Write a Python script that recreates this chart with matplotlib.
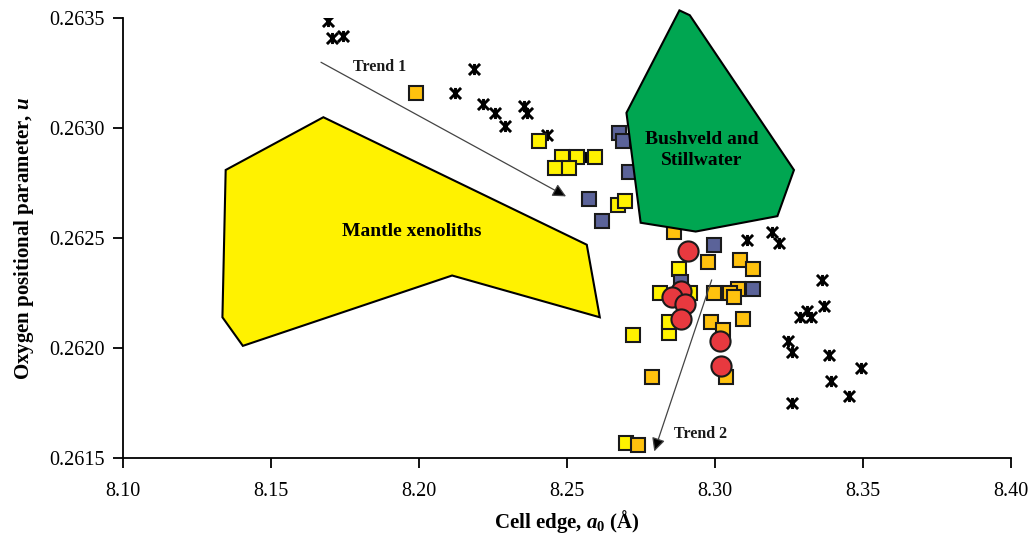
import matplotlib
matplotlib.use("Agg")
import matplotlib.pyplot as plt
from matplotlib.path import Path
from matplotlib.patches import Polygon

plt.rcParams['font.family'] = ['Liberation Serif', 'DejaVu Serif']
plt.rcParams['mathtext.fontset'] = 'custom'
plt.rcParams['mathtext.rm'] = 'Liberation Serif:bold'
plt.rcParams['mathtext.it'] = 'Liberation Serif:italic:bold'
plt.rcParams['mathtext.bf'] = 'Liberation Serif:bold'

# ---- data ----
cross_x = [8.1692, 8.1707, 8.1742, 8.2187, 8.2122, 8.2215, 8.2258, 8.2292, 8.2356,
           8.2365, 8.2431, 8.2561, 8.3107, 8.3192, 8.3216, 8.3363, 8.3367, 8.3310,
           8.3288, 8.3324, 8.3246, 8.3259, 8.3384, 8.3492, 8.3393, 8.3453, 8.3259]
cross_y = [0.26349, 0.26341, 0.26342, 0.26327, 0.26316, 0.26311, 0.26307, 0.26301, 0.26310,
           0.26307, 0.26297, 0.26287, 0.26249, 0.26253, 0.26248, 0.26231, 0.26219, 0.26217,
           0.26214, 0.26214, 0.26203, 0.26198, 0.26197, 0.26191, 0.26185, 0.26178, 0.26175]

yellow_x = [8.2405, 8.2482, 8.2533, 8.2595, 8.2459, 8.2508, 8.2671, 8.2697, 8.2878,
            8.2814, 8.2916, 8.2724, 8.2845, 8.2846, 8.2698]
yellow_y = [0.26294, 0.26287, 0.26287, 0.26287, 0.26282, 0.26282, 0.26265, 0.26267, 0.26236,
            0.26225, 0.26225, 0.26206, 0.26207, 0.26212, 0.26157]

orange_x = [8.1989, 8.2863, 8.2977, 8.3086, 8.3128, 8.2998, 8.3077, 8.3052, 8.3064,
            8.3094, 8.2985, 8.3028, 8.3037, 8.2788, 8.2741]
orange_y = [0.26316, 0.26253, 0.26239, 0.26240, 0.26236, 0.26225, 0.26227, 0.26225, 0.26223,
            0.26213, 0.26212, 0.26208, 0.26187, 0.26187, 0.26156]

blue_x = [8.2677, 8.2689, 8.2710, 8.2576, 8.2619, 8.2998, 8.3129, 8.2885]
blue_y = [0.26298, 0.26294, 0.26280, 0.26268, 0.26258, 0.26247, 0.26227, 0.26230]

red_x = [8.2908, 8.2884, 8.2854, 8.2899, 8.2884, 8.3017, 8.3020]
red_y = [0.26244, 0.26226, 0.26223, 0.26220, 0.26213, 0.26203, 0.26192]

mantle_x = [8.1347, 8.1677, 8.2567, 8.2611, 8.2112, 8.1405, 8.1336]
mantle_y = [0.26281, 0.26305, 0.26247, 0.26214, 0.26233, 0.26201, 0.26214]

bush_x = [8.2880, 8.2915, 8.3267, 8.3211, 8.2935, 8.2749, 8.2701]
bush_y = [0.263536, 0.263514, 0.26281, 0.26260, 0.26253, 0.26257, 0.26307]

trend1 = [(8.1669, 0.26330), (8.2497, 0.26269)]
trend2 = [(8.2989, 0.26231), (8.2795, 0.26153)]

xticks = [8.10, 8.15, 8.20, 8.25, 8.30, 8.35, 8.40]
yticks = [0.2615, 0.2620, 0.2625, 0.2630, 0.2635]

# ---- figure ----
fig = plt.figure(figsize=(10.36, 5.40), dpi=100)
ax = fig.add_axes([0.1187, 0.1519, 0.8571, 0.8142])

star = Path([(-1, -1), (1, 1), (-1, 1), (1, -1), (0, -1), (0, 1)],
            [Path.MOVETO, Path.LINETO, Path.MOVETO, Path.LINETO, Path.MOVETO, Path.LINETO])

ax.plot(cross_x, cross_y, linestyle='none', marker=star, markersize=8,
        markeredgewidth=2.1, color='black', zorder=2)
ax.plot(yellow_x, yellow_y, linestyle='none', marker='s', markersize=10,
        markerfacecolor='#FFF200', markeredgecolor='#1a1a1a', markeredgewidth=1.5, zorder=3)
ax.plot(orange_x, orange_y, linestyle='none', marker='s', markersize=10,
        markerfacecolor='#FFC20E', markeredgecolor='#1a1a1a', markeredgewidth=1.5, zorder=3)
ax.plot(blue_x, blue_y, linestyle='none', marker='s', markersize=10,
        markerfacecolor='#5B6399', markeredgecolor='#1a1a1a', markeredgewidth=1.5, zorder=3)
ax.plot(red_x, red_y, linestyle='none', marker='o', markersize=14.5,
        markerfacecolor='#E8393F', markeredgecolor='#1a1a1a', markeredgewidth=1.5, zorder=4)

ax.add_patch(Polygon(list(zip(mantle_x, mantle_y)), closed=True, facecolor='#FFF200',
                     edgecolor='black', linewidth=1.5, zorder=5))
ax.add_patch(Polygon(list(zip(bush_x, bush_y)), closed=True, facecolor='#00A651',
                     edgecolor='black', linewidth=1.5, zorder=5, clip_on=False))

for (x0, y0), (x1, y1) in [trend1, trend2]:
    ax.annotate('', xy=(x1, y1), xytext=(x0, y0),
                arrowprops=dict(arrowstyle='-|>', color='#666666', lw=0.9,
                                mutation_scale=20, shrinkA=0, shrinkB=0,
                                fc='black', ec='#444444'), zorder=6)

ax.text(8.1868, 0.26328, 'Trend 1', fontsize=11.5, fontweight='bold', ha='center', va='center', color='#1a1a1a')
ax.text(8.2951, 0.26161, 'Trend 2', fontsize=11.5, fontweight='bold', ha='center', va='center', color='#1a1a1a')
ax.text(8.1976, 0.26253, 'Mantle xenoliths', fontsize=14, fontweight='bold', ha='center', va='center', zorder=7)
ax.text(8.2956, 0.26290, 'Bushveld and\nStillwater', fontsize=14, fontweight='bold', ha='center', va='center',
        linespacing=1.3, zorder=7)

ax.set_xlim(8.10, 8.40)
ax.set_ylim(0.2615, 0.2635)
ax.set_xticks(xticks)
ax.set_xticklabels([f'{v:.2f}' for v in xticks])
ax.set_yticks(yticks)
ax.set_yticklabels([f'{v:.4f}' for v in yticks])
ax.tick_params(axis='both', direction='out', length=7, width=1.3, labelsize=14.5, pad=6)
ax.tick_params(axis='x', pad=10)
for s in ['top', 'right']:
    ax.spines[s].set_visible(False)
for s in ['left', 'bottom']:
    ax.spines[s].set_linewidth(1.3)

ax.set_xlabel(r'Cell edge, $a_0$ (Å)', fontsize=15, fontweight='bold', labelpad=5)
ax.set_ylabel(r'Oxygen positional parameter, $u$', fontsize=15, fontweight='bold', labelpad=10)

fig.savefig('out.png', dpi=100)
